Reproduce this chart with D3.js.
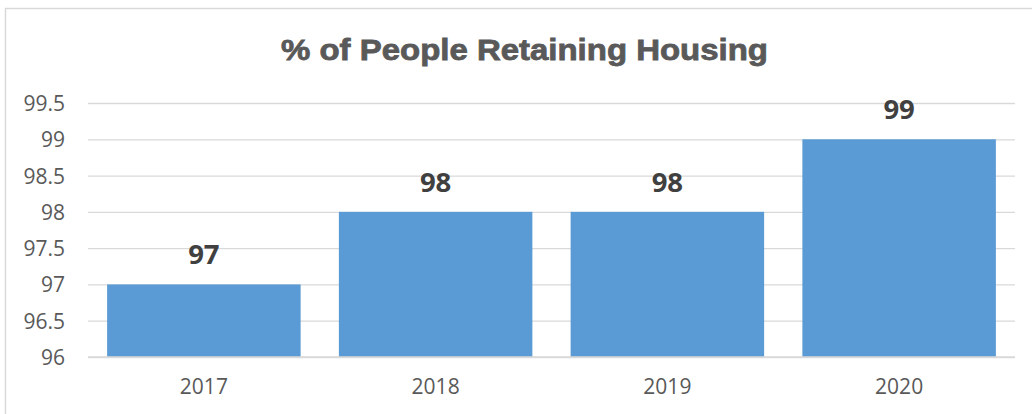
<!DOCTYPE html>
<html>
<head>
<meta charset="utf-8">
<script src="https://cdn.jsdelivr.net/npm/d3@7"></script>
<style>
  html, body { margin: 0; padding: 0; background: #fff; }
  svg { display: block; }
</style>
</head>
<body>
<svg id="chart" width="1032" height="414"></svg>
<script>
const categories = ["2017", "2018", "2019", "2020"];
const values = [97, 98, 98, 99];
const yTicks = [96, 96.5, 97, 97.5, 98, 98.5, 99, 99.5];
const title = "% of People Retaining Housing";

const svg = d3.select("#chart");
const plot = { left: 88, right: 1015, top: 103, bottom: 357 };

// chart border
svg.append("rect")
  .attr("x", 5.5).attr("y", 8.5)
  .attr("width", 1040).attr("height", 420)
  .attr("fill", "none").attr("stroke", "#d9d9d9").attr("stroke-width", 1.5);

const x = d3.scaleBand()
  .domain(categories)
  .range([plot.left, plot.right])
  .paddingInner(0.165)
  .paddingOuter(0.0825);

const y = d3.scaleLinear()
  .domain([96, 99.5])
  .range([plot.bottom, plot.top]);

// gridlines + y labels
const yAxis = d3.axisLeft(y)
  .tickValues(yTicks)
  .tickSize(-(plot.right - plot.left))
  .tickPadding(23)
  .tickFormat(d => d3.format("~g")(d));

const gy = svg.append("g")
  .attr("transform", `translate(${plot.left},0)`)
  .call(yAxis);
gy.select(".domain").remove();
gy.selectAll(".tick line").attr("stroke", "#d9d9d9").attr("stroke-width", 1.3);
gy.selectAll(".tick text")
  .attr("fill", "#595959")
  .attr("font-family", "'Open Sans', sans-serif")
  .attr("font-size", 21)
  .attr("dy", "0.36em");

// bars
svg.append("g").selectAll("rect")
  .data(categories)
  .join("rect")
  .attr("x", d => x(d))
  .attr("width", x.bandwidth())
  .attr("y", (d, i) => y(values[i]))
  .attr("height", (d, i) => y(96) - y(values[i]))
  .attr("fill", "#5b9bd5");

// baseline
svg.append("line")
  .attr("x1", plot.left).attr("x2", plot.right)
  .attr("y1", y(96)).attr("y2", y(96))
  .attr("stroke", "#d9d9d9").attr("stroke-width", 1.5);

// x axis labels
const xAxis = d3.axisBottom(x).tickSize(0).tickPadding(22);
const gx = svg.append("g")
  .attr("transform", `translate(0,${y(96)})`)
  .call(xAxis);
gx.select(".domain").remove();
gx.selectAll(".tick text")
  .attr("fill", "#595959")
  .attr("font-family", "'Open Sans', sans-serif")
  .attr("font-size", 21);

// data labels
svg.append("g").selectAll("text")
  .data(categories)
  .join("text")
  .attr("x", d => x(d) + x.bandwidth() / 2)
  .attr("y", (d, i) => y(values[i]) - 20)
  .attr("text-anchor", "middle")
  .attr("fill", "#404040")
  .attr("font-family", "'Open Sans', sans-serif")
  .attr("font-weight", "bold")
  .attr("font-size", 27.5)
  .text((d, i) => values[i]);

// title
svg.append("text")
  .attr("x", 524.5)
  .attr("y", 60.3)
  .attr("text-anchor", "middle")
  .attr("fill", "#595959")
  .attr("stroke", "#595959")
  .attr("stroke-width", 0.8)
  .attr("font-family", "'Liberation Sans', Arial, sans-serif")
  .attr("font-weight", "bold")
  .attr("font-size", 30)
  .attr("textLength", 487)
  .attr("lengthAdjust", "spacingAndGlyphs")
  .text(title);
</script>
</body>
</html>
